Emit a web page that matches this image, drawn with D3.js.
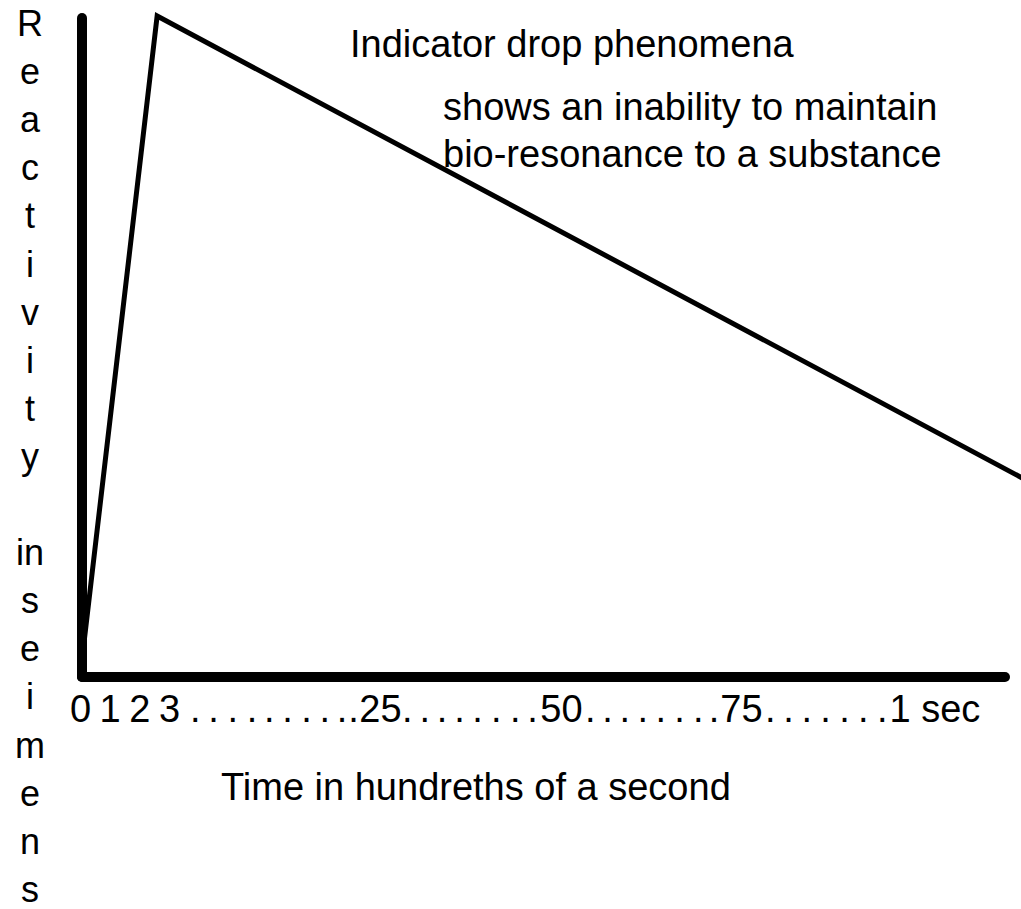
<!DOCTYPE html>
<html>
<head>
<meta charset="utf-8">
<script src="https://cdn.jsdelivr.net/npm/d3@7"></script>
<style>
  body { margin: 0; background: #fff; }
  svg text { font-family: "Liberation Sans", Arial, Helvetica, sans-serif; fill: #000; }
</style>
</head>
<body>
<svg id="chart"></svg>
<script>
// time in hundredths of a second, reactivity in arbitrary units (peak = 100)
const times = [0, 2.6, 120];
const reactivity = [0, 100, 30];

const tickValues = [0, 1, 2, 3, 25, 50, 75, 100];
const tickLabels = ["0", "1", "2", "3", "25", "50", "75", "1 sec"];
const dotTicks = [5.7, 7.6, 9.6, 11.6, 13.4, 15.3, 17.3, 19.2, 21.0, 22.2,
  28.7, 31.1, 33.5, 35.9, 38.4, 41.0, 43.6, 46.0,
  54.0, 56.4, 58.8, 61.3, 63.8, 66.4, 69.0, 71.2,
  79.6, 82.5, 85.4, 88.4, 91.4, 94.4, 97.4];

const yLabelLines = ["R", "e", "a", "c", "t", "i", "v", "i", "t", "y", "", "in",
  "s", "e", "i", "m", "e", "n", "s"];

const title = "Indicator drop phenomena";
const noteLines = ["shows an inability to maintain", "bio-resonance to a substance"];
const xTitle = "Time in hundreths of a second";

const W = 1021, H = 909;
const axisX = 82, axisY = 677;

const svg = d3.select("#chart")
  .attr("width", W)
  .attr("height", H);

svg.append("rect").attr("width", W).attr("height", H).attr("fill", "#fff");

// the hand drawn axis is not to scale: the first hundredths are stretched
const x = d3.scaleLinear()
  .domain([0, 3, 25, 50, 75, 100])
  .range([80, 169, 380, 561, 741, 898]);

const y = d3.scaleLinear()
  .domain([0, 100])
  .range([axisY, 16]);

// axes lines
svg.append("line")
  .attr("x1", axisX).attr("y1", axisY)
  .attr("x2", axisX).attr("y2", 18)
  .attr("stroke", "#000")
  .attr("stroke-width", 10)
  .attr("stroke-linecap", "round");

svg.append("line")
  .attr("x1", axisX).attr("y1", axisY)
  .attr("x2", 1005).attr("y2", axisY)
  .attr("stroke", "#000")
  .attr("stroke-width", 10)
  .attr("stroke-linecap", "round");

// tick labels
const labelAxis = svg.append("g")
  .attr("transform", "translate(0,722)")
  .call(d3.axisBottom(x)
    .tickValues(tickValues)
    .tickFormat((d, i) => tickLabels[i])
    .tickSize(0)
    .tickPadding(0));
labelAxis.select(".domain").remove();
labelAxis.selectAll("text")
  .attr("y", 0).attr("dy", 0)
  .attr("font-size", 38)
  .style("font-family", "'Liberation Sans', Arial, sans-serif")
  .attr("fill", "#000");
labelAxis.selectAll(".tick").filter(d => d === 100).select("text")
  .attr("text-anchor", "start")
  .attr("dx", -9);

const dotAxis = svg.append("g")
  .attr("transform", "translate(0,722)")
  .call(d3.axisBottom(x)
    .tickValues(dotTicks)
    .tickFormat(() => ".")
    .tickSize(0)
    .tickPadding(0));
dotAxis.select(".domain").remove();
dotAxis.selectAll("text")
  .attr("y", 0).attr("dy", 0)
  .attr("font-size", 38)
  .style("font-family", "'Liberation Sans', Arial, sans-serif")
  .attr("fill", "#000");

// the reaction curve
const points = times.map((t, i) => ({ t: t, r: reactivity[i] }));
const line = d3.line().x(d => x(d.t)).y(d => y(d.r));

svg.append("path")
  .datum(points)
  .attr("d", line)
  .attr("fill", "none")
  .attr("stroke", "#000")
  .attr("stroke-width", 5)
  .attr("stroke-linejoin", "miter");

// texts
svg.append("text")
  .attr("x", 350).attr("y", 57)
  .attr("font-size", 38)
  .text(title);

svg.selectAll(".note")
  .data(noteLines)
  .enter()
  .append("text")
  .attr("class", "note")
  .attr("x", 443)
  .attr("y", (d, i) => 120 + i * 47)
  .attr("font-size", 38)
  .text(d => d);

svg.append("text")
  .attr("x", 221).attr("y", 800)
  .attr("font-size", 38)
  .text(xTitle);

svg.selectAll(".ylab")
  .data(yLabelLines)
  .enter()
  .append("text")
  .attr("class", "ylab")
  .attr("x", 30)
  .attr("y", (d, i) => 36 + i * 48.1)
  .attr("text-anchor", "middle")
  .attr("font-size", 36)
  .text(d => d);
</script>
</body>
</html>
